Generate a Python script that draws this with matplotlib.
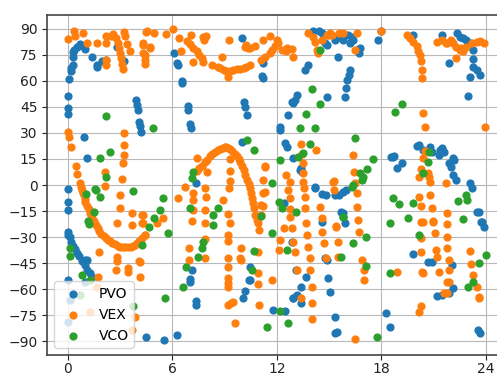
import numpy as np
import matplotlib
matplotlib.use("Agg")
import matplotlib.pyplot as plt

# (local time [h], latitude [deg]) for each mission
pvo = [
    (0.02, 51.3), (0.02, 44.6), (0.02, 40.8), (0.06, 61), (0.17, 65.8), (0.2, 67.7), (0.27, 69),
    (0.31, 73.7), (0.31, 76.9), (0.35, 78), (0.5, 79.8), (0.69, 81.4), (0.88, 80.2), (1.0, 78.3),
    (1.38, 73.7), (1.65, 69.2), (1.68, 68), (1.94, 71.2), (2.2, 72), (2.8, 79.8), (3.2, 71.2),
    (3.9, 49), (3.95, 46), (4.0, 43), (4.1, 36.5), (4.12, 34), (4.2, 30.8), (0.92, 27.9), (1.11, 15.8),
    (0.02, -2.3), (0.0, -9.6), (0.0, -14.4), (0.0, -27), (0.0, -29), (0.1, -30), (0.2, -33), (0.3, -35),
    (0.4, -37), (0.5, -39), (0.64, -41), (0.8, -44), (0.96, -46), (1.1, -49), (1.25, -51), (1.4, -53),
    (0.96, -43), (1.1, -43.5), (0.0, -55), (0.98, -55.8), (0.1, -66.4), (0.0, -79),
    (4.47, -87.9), (5.54, -89.4), (6.26, -86.2), (7.1, -49), (7.0, -54), (7.0, -56), (7.36, -66.7),
    (7.36, -69), (6.1, 76), (6.25, 70.2), (6.3, 69), (6.53, 60), (6.56, 58.8), (6.88, 45.6), (6.9, 43.3),
    (7.0, 35.2), (7.05, 33), (7.36, 1), (10.0, 84.6), (10.1, 48), (10.15, 45.2), (10.27, 40.4), (10.0, 25),
    (10.46, -47), (10.4, -55), (10.2, -61), (10.05, -65.4),
    (14.1, 88.5), (14.4, 88.5), (14.6, 87.5), (14.77, 81.7), (15.35, 83.7), (15.55, 85.6), (15.8, 83.7),
    (16.1, 86.6), (16.3, 85.6), (16.4, 83.7), (16.2, 81.7), (16.6, 77.9), (16.7, 76), (16.8, 79),
    (15.5, 74), (17.8, 83.7), (19.85, 86.6), (21.5, 86.6), (22.34, 87.5), (22.5, 85.6), (22.7, 84.6),
    (22.9, 83.7), (23.1, 81.7), (23.26, 77.9), (23.3, 72.5), (23.3, 68.3), (23.5, 66.4), (23.7, 63.5),
    (23.1, 62.5), (23.0, 51.4), (21.9, 70.2), (11.2, 70.2), (11.2, 61.6), (11.15, 63), (13.6, 66.4),
    (13.8, 69.3), (16.2, 66.4), (16.15, 63.5), (16.05, 60.6), (15.98, 55.8), (15.9, 50.6), (14.9, 50.6),
    (13.14, 52), (13.05, 49), (12.95, 47.1), (12.85, 48), (12.66, 40.4), (12.18, 33.7), (12.2, 31.8),
    (12.47, 24), (12.57, 22.1), (12.95, 15.4), (13.33, 8.7), (13.43, 7.7), (14.2, -1.9), (14.9, 80.8),
    (18.0, 88.5), (18.7, 16.4), (18.9, 9.6), (19.2, 12.5), (20.04, 22.5), (20.2, 23), (20.4, 20.2),
    (20.8, 22.1), (20.9, 19.3), (21.5, 21.2), (21.3, 17.3), (21.9, 12.5), (22.0, 10.6), (22.15, 5.8),
    (22.3, 2.9), (23.1, 1), (23.2, -2), (18.57, 16.4), (18.75, 16.8), (21.4, 20.2), (21.6, 19.3),
    (22.1, 15.4), (22.2, 14.4), (14.2, -1.3), (14.6, -5.2), (14.8, -5.8), (15.35, -5.8), (15.6, -5.8),
    (15.8, -3.8), (16.0, -2.9), (15.7, -15.4), (15.8, -18.3), (15.9, -22.1), (14.6, -21.2), (12.4, -10.6),
    (12.85, -32.7), (13.1, -49), (13.7, -52.9), (13.4, -58.6), (12.95, -65.4), (13.14, -63.5),
    (13.4, -68.3), (11.8, -72.1), (12.47, -72.5), (14.77, -42.3), (14.87, -43.3), (14.96, -53.8),
    (15.06, -61.5), (15.35, -76), (15.35, -85.6), (15.45, -84.6), (10.46, -54.8), (18.3, -74),
    (18.5, -81.7), (19.85, -39.8), (20.7, -44.2), (20.9, -44.2), (22.05, -46.2), (21.2, -64),
    (21.5, -63.5), (21.9, -62.5), (22.15, -59.6), (23.6, -15.4), (23.8, -21.2), (23.9, -24),
    (23.55, -83.7), (23.7, -85.6), (15.79, -16.3), (23.53, -15.4), (23.72, -21.1), (13.4, 9.6),
    (12.93, -65.4),
]

vex = [
    (0.02, 84.2), (0.35, 88.5), (0.4, 85.7), (0.88, 87.5), (1.1, 81.8), (1.68, 81.8), (2.18, 86),
    (2.18, 81.8), (2.18, 72.1), (2.18, 69), (2.45, 86), (2.6, 87), (2.75, 85), (2.85, 82), (2.95, 79),
    (3.0, 76), (3.05, 73), (3.1, 70), (3.15, 67), (3.2, 88), (3.3, 86), (3.42, 81), (3.55, 77),
    (4.3, 81.8), (4.3, 76), (4.4, 72), (4.42, 70), (4.5, 88), (4.7, 79.8), (4.94, 87.5), (5.63, 87),
    (6.02, 89.8), (6.4, 85), (6.5, 77), (7.07, 86.5), (6.85, 83), (7.0, 81), (7.2, 79), (7.4, 77),
    (7.55, 75), (7.68, 73), (7.75, 71), (7.17, 71), (7.93, 86), (8.26, 69.2), (8.83, 73.7), (9.27, 83.7),
    (7.78, 85.6), (7.8, 83.5), (8.6, 68), (8.75, 67.5), (8.95, 66.3), (9.1, 65.5), (9.2, 62.1),
    (9.3, 65.8), (9.5, 66.3), (9.7, 67), (9.9, 67), (10.1, 67.5), (10.25, 68), (10.45, 69.3),
    (10.2, 79.8), (4.33, 80.8), (4.43, 75), (4.7, 79), (4.52, 88.5), (10.25, 80.8), (10.35, 79),
    (10.46, 78.9), (10.75, 80), (11.2, 83.7), (11.3, 74), (11.1, 72), (11.6, 86), (11.61, 76),
    (11.7, 78), (11.9, 80), (12.09, 82), (12.0, 83.7), (12.28, 78), (12.57, 79), (12.85, 78.5),
    (12.95, 74), (12.5, 77), (13.81, 87.5), (14.1, 85.6), (14.2, 82.7), (14.29, 77.9), (14.38, 76),
    (14.6, 83.7), (14.9, 86.6), (15.06, 87.5), (15.15, 86.6), (15.6, 87.5), (15.8, 87.5), (16.6, 87.5),
    (16.5, 77.9), (15.0, 86.6), (19.46, 86.6), (19.65, 84.5), (19.85, 82.7), (20.04, 80), (20.13, 77),
    (20.23, 75), (20.3, 71.2), (20.33, 66.4), (20.33, 61.6), (21.2, 82.7), (21.5, 83.7), (21.7, 81.7),
    (22.0, 83.7), (22.15, 81.7), (22.3, 79.8), (22.5, 77.9), (22.7, 77), (22.9, 79.8), (23.2, 81.7),
    (23.5, 82.7), (23.7, 83.3), (23.9, 81.8), (22.3, 73), (22.57, 78.9), (21.8, 81.7), (18.0, 88.5),
    (0.0, 30.8), (0.05, 27.9), (0.17, 22.1), (0.46, 11), (0.53, 6.3), (0.69, 1.3), (0.75, -1),
    (0.8, -3), (0.85, -4.5), (0.9, -6), (0.95, -8), (1.0, -10), (1.1, -12), (1.2, -14), (1.25, -16),
    (1.3, -17.5), (1.4, -19), (1.5, -21), (1.6, -23), (1.7, -25), (1.8, -26.5), (1.9, -28),
    (2.05, -29.5), (2.2, -30.5), (2.3, -31.5), (2.4, -32.5), (2.55, -33.3), (2.7, -34), (2.85, -35),
    (3.0, -35.5), (3.15, -36), (3.3, -36), (3.45, -36), (3.6, -35.5), (3.75, -35), (3.85, -34.5),
    (3.95, -33.5), (4.1, -32), (4.25, -30.5), (4.4, -29),
    (3.24, 29.8), (3.2, 23), (3.2, 17.5), (3.18, 12.5), (3.08, 3.3), (2.13, 7.7),
    (7.4, 8), (7.55, 9.6), (7.7, 11), (7.85, 13), (8.0, 14.5), (8.15, 16.5), (8.3, 17.6), (8.45, 19),
    (8.6, 20), (8.75, 21), (8.9, 21.5), (9.0, 22), (9.1, 22), (9.2, 21.5), (9.3, 20.6), (9.45, 19.5),
    (9.6, 18), (9.7, 16.5), (9.8, 15), (9.9, 13), (10.0, 11), (10.1, 8.5), (10.2, 6), (10.3, 3),
    (10.4, 0.5), (10.46, -2), (10.5, -4.8), (10.56, -7.7), (10.63, -10.6), (10.7, -13.5),
    (10.75, -17.3), (10.85, -20), (10.94, -21.7), (11.0, -26),
    (7.4, 15.5), (8.0, 7.7), (9.3, 15), (9.3, 8), (9.3, 2.5), (9.27, -1.9),
    (1.8, -38.5), (1.7, -52.9), (1.65, -59), (2.8, -41.7), (2.8, -44), (2.76, -49), (2.84, -22),
    (3.0, -6), (3.0, -13.5), (3.7, -16), (3.7, -23), (3.46, -48), (3.45, -50), (4.1, -44), (4.14, -53),
    (4.3, -17.3), (4.3, -22), (3.85, -76), (3.7, -83.6), (2.1, -0.5), (1.26, -73),
    (6.73, -1.3), (6.34, -7.7), (7.2, -4.8), (7.17, -8.7), (7.1, -20.8), (6.97, -36.5), (6.95, -43.3),
    (7.85, -42), (7.85, -31), (7.85, -22), (7.9, -14.4), (7.92, -6.9), (7.85, -2), (8.9, -8.7),
    (9.3, -22), (9.2, -28.8), (9.2, -32), (9.2, -42.3), (9.2, -47), (9.2, -53.8), (9.2, -56.5),
    (9.2, -58.6), (9.2, -69), (9.35, -68), (9.6, -79.8), (9.9, -42), (9.96, -36.5), (9.96, -43.2),
    (9.48, -67.3), (4.24, -17.3), (4.24, -22), (5.48, -19.2), (5.1, -22), (4.43, -28.8), (4.14, -44.2),
    (7.2, -14.4), (9.22, -16.9),
    (20.4, 41.4), (20.5, 33.3), (23.97, 33.7), (13.4, 23.7), (14.25, 20.2), (13.45, 18), (16.4, 17.3),
    (13.5, 12.5), (13.5, 6.8), (13.5, 1.9), (12.76, 1.9), (12.5, 5.8), (11.3, 11.2), (11.2, 2.9),
    (15.25, 1.9), (16.5, 1), (20.4, 15.4), (20.5, 19.5), (20.2, 4.8), (20.7, 6.8), (20.8, 1.9),
    (21.7, 1.4), (20.3, 9), (11.2, -4.8), (11.2, -12.1), (10.94, -38.5), (10.94, -51), (10.94, -57.1),
    (11.0, -69.2), (11.7, -54.8), (12.2, -31.7), (12.1, -37.5), (12.4, -25), (12.66, -2.9),
    (12.76, -7.7), (12.76, -14), (12.76, -18.3), (12.85, -25), (12.95, -32.7), (13.05, -38.5),
    (13.14, -49), (13.4, -65.4), (13.55, -2), (13.6, -6.7), (13.6, -13.5), (13.7, -21.7),
    (13.75, -28.8), (13.8, -35.6), (13.9, -42.3), (13.9, -49), (14.0, -58.6), (14.0, -68.3),
    (14.0, -77.5), (14.5, -12.5), (14.6, -19.2), (14.6, -27), (14.7, -33.3), (15.4, -24), (15.5, -32.7),
    (15.5, -41.4), (16.6, -4.8), (16.6, -12.5), (16.65, -20.2), (16.7, -26.9), (16.9, -43.3),
    (17.0, -49), (17.0, -54.8), (16.5, -88.5), (18.9, -50), (20.2, -6.7), (20.3, -12.1), (20.8, -5.8),
    (20.9, -13.5), (20.4, -21.2), (21.0, -20.6), (20.3, -30.8), (20.3, -38.5), (20.4, -50.6),
    (21.15, -37.5), (21.2, -41.7), (21.3, -50), (21.8, -16.3), (21.8, -22.7), (21.8, -29.8),
    (21.8, -36.5), (21.9, -43.3), (21.9, -49), (21.9, -55.8), (20.3, -69.8), (20.2, -73.1),
    (21.6, -62.5), (21.8, -62), (23.1, -37.9), (23.15, -45.6), (23.3, -51.9), (23.5, -58.6),
    (23.6, -64.8), (15.3, 2.3), (15.3, -2.9), (15.4, -23.4), (14.83, -42.3), (16.46, 7.7),
    (11.3, 10.6), (11.3, -3.8), (11.1, -11.5), (11.1, -17.3), (20.75, 4.8), (20.27, -21.1),
    (20.95, -21.1), (21.08, -27.9), (20.37, -50), (21.8, -55.7), (23.63, -65.4),
]

vco = [
    (2.18, 39.8), (4.87, 32.7), (2.41, 19.2), (1.84, 15.8), (2.18, 4.8), (1.6, -3), (3.75, -3.3),
    (7.17, 7.3), (10.3, 26), (1.03, -5.2), (1.55, -2.5), (1.84, -6.7), (1.5, -15.4), (1.17, -21),
    (1.2, -22.5), (0.1, -36.5), (0.1, -41), (0.79, -52), (1.26, -55), (0.69, -63.5), (3.75, -70),
    (4.23, -34.6), (4.94, -19.2), (5.3, -14.4), (5.48, -7.7), (5.77, -27.5), (5.57, -65.4),
    (6.59, -59), (6.78, -47.5), (7.45, -41.5), (7.0, -13.5), (7.74, -32.7), (8.35, -17.3),
    (8.64, -13.5), (8.35, -23), (7.1, 3.9), (4.68, -24), (7.68, -36.5),
    (14.0, 55.2), (14.5, 46.6), (13.7, 41), (13.33, 32.7), (14.2, 32.7), (16.5, 27.3), (13.9, 23.7),
    (13.5, 18.3), (13.2, 16.4), (12.2, 14.4), (11.7, 1), (10.7, 20.2), (17.5, 14.8), (17.2, 9.1),
    (16.8, 6.8), (16.95, 4.8), (16.9, 2.9), (16.4, 0), (18.8, 42.3), (19.2, 46.8), (20.75, 19),
    (20.7, 13), (20.4, 6.8), (14.5, 77.9), (12.1, -9.6), (12.3, -13.5), (13.1, -15.4), (11.1, -17.9),
    (11.7, -27.9), (15.8, -18.3), (16.3, -1), (17.1, -29.8), (16.4, -33.7), (15.7, -41.7),
    (12.6, -37.5), (10.7, -38), (10.56, -49), (17.1, -46.7), (18.5, -22.1), (18.7, -7.7),
    (19.05, -11), (19.85, -10.6), (19.56, -19.2), (20.2, -28.8), (18.5, -51), (22.4, -9), (22.9, -5.8),
    (22.95, -8.5), (22.7, -19.8), (23.6, -44.8), (24.0, -40.4), (23.3, -55.8), (23.0, -59),
    (11.42, -82.1), (12.66, -79.4), (12.2, -72.5), (17.74, -87.5),
]

series_names = ["PVO", "VEX", "VCO"]
series_data = [pvo, vex, vco]
series_colors = ["#1f77b4", "#ff7f0e", "#2ca02c"]

x_ticks = [0, 6, 12, 18, 24]
y_ticks = list(range(-90, 91, 15))

W, H = 497, 374
fig = plt.figure(figsize=(W / 100, H / 100), dpi=100)
ax = fig.add_axes([47.1 / W, 19 / H, 459.4 / W, 340 / H])

for name, data, col in zip(series_names, series_data, series_colors):
    arr = np.array(data)
    ax.scatter(arr[:, 0], arr[:, 1], s=24, color=col, label=name, zorder=3)

ax.set_xlim(-1.2, 25.2)
ax.set_ylim(-98, 98)
ax.set_xticks(x_ticks)
ax.set_yticks(y_ticks)
ax.grid(True, color="#b8b8b8", linewidth=0.8, zorder=0)
ax.set_axisbelow(True)
ax.tick_params(labelsize=10, colors="#222222")
ax.tick_params(axis="x", pad=1.2)
for sp in ax.spines.values():
    sp.set_color("#444444")
    sp.set_linewidth(1.2)
ax.legend(loc="lower left", fontsize=10, borderaxespad=0.5)

fig.savefig("out.png", dpi=100)
